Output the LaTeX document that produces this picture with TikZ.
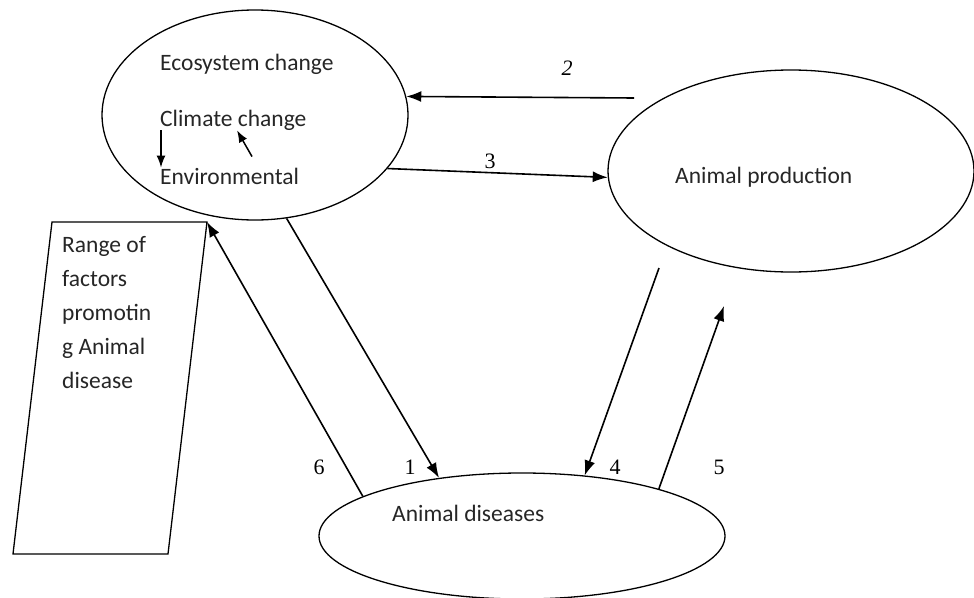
\documentclass[tikz,border=0pt]{standalone}
\usepackage{fontspec}
\setmainfont{Carlito}
\newfontfamily\numfont{Liberation Serif}
\usetikzlibrary{arrows.meta,shapes.geometric}
\tikzset{
  bubble/.style={draw, ellipse, line width=1.3pt, inner sep=0pt},
  lbl/.style={font=\fontsize{23.5}{34}\selectfont, anchor=west, inner sep=0pt, text=black!85},
  num/.style={font=\numfont\fontsize{22}{26}\selectfont, inner sep=0pt},
  flow/.style={-{Latex[length=15pt,width=11pt]}, line width=1.6pt},
  small/.style={-{Latex[length=12pt,width=9pt]}, line width=1.5pt},
}

\begin{document}
\begin{tikzpicture}[x=1pt,y=-1pt]
  \useasboundingbox (0,0) rectangle (974,597);
  % the three ellipses
  \node[bubble, minimum width=306pt, minimum height=210pt] (eco) at (255,115) {};
  \node[bubble, minimum width=366pt, minimum height=202pt] (prod) at (791,171) {};
  \node[bubble, minimum width=406pt, minimum height=126pt] (dis) at (522,536) {};
  \node[lbl] (t-eco) at (160,64) {Ecosystem change};
  \node[lbl] (t-clim) at (160,120) {Climate change};
  \node[lbl] (t-env) at (160,176) {Environmental};
  \node[lbl] (t-prod) at (675,177) {Animal production};
  \node[lbl] (t-dis) at (392,513) {Animal diseases};
  \draw[small] ([xshift=1pt]t-clim.south west) -- ([xshift=1pt]t-env.north west);
  \draw[small] ([shift={(92,-11)}]t-env.north west) -- ([xshift=77pt]t-clim.south west);

  % factors box
  \coordinate (fac-nw) at (52,222);
  \coordinate (fac-ne) at (207,222);
  \coordinate (fac-se) at (168,554);
  \coordinate (fac-sw) at (13,554);
  \draw[line width=1.3pt] (fac-nw) -- (fac-ne) -- (fac-se) -- (fac-sw) -- cycle;
  \node[lbl, align=left, anchor=north west] (t-fac) at (62,236)
    {Range of\\factors\\promotin\\g Animal\\disease};

  % links
  \coordinate (p-out) at (634,98);
  \coordinate (p-low) at (659,268);
  \coordinate (p-up) at (724,306);
  \draw[flow] (p-out) -- (eco.7);
  \draw[flow] (eco.-22) -- (prod.182);
  \draw[flow] (eco.-73) -- (dis.145);
  \draw[flow] (dis.166) -- (fac-ne);
  \draw[flow] (p-low) -- (dis.44);
  \draw[flow] (dis.19) -- (p-up);
  \node[num, font=\numfont\itshape\fontsize{22}{26}\selectfont] (n2) at (567,68) {2};
  \node[num] (n3) at (490,161) {3};
  \node[num] (n6) at (319,467) {6};
  \node[num] (n1) at (410,467) {1};
  \node[num] (n4) at (615,467) {4};
  \node[num] (n5) at (719,467) {5};
\end{tikzpicture}
\end{document}
